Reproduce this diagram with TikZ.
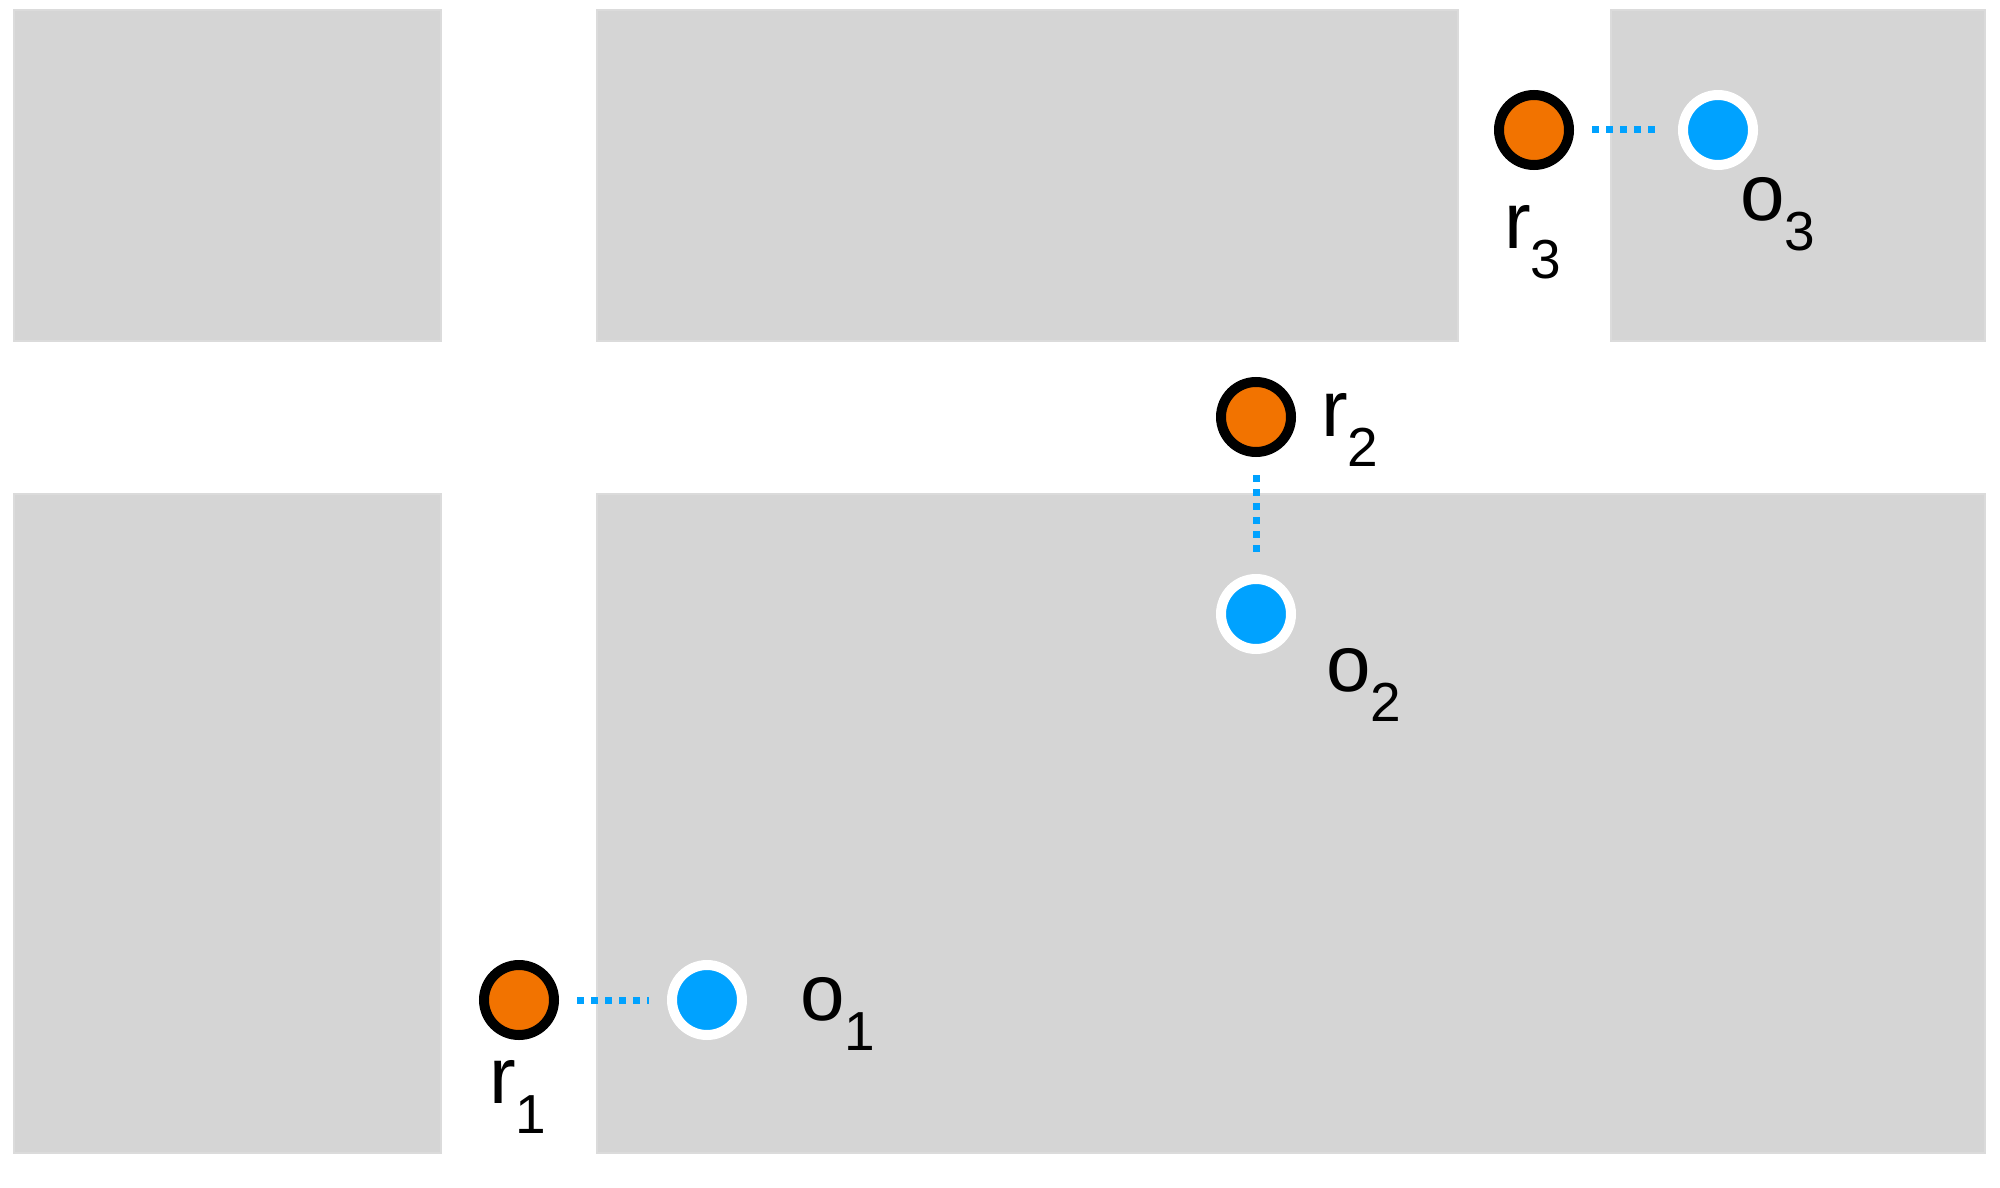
\documentclass[tikz,border=0pt]{standalone}
\usepackage{fontspec}
\setmainfont{Liberation Sans}
\definecolor{blk}{HTML}{D5D5D5}
\definecolor{rob}{HTML}{F27300}
\definecolor{obj}{HTML}{00A2FF}
\begin{document}
\begin{tikzpicture}[x=1pt,y=-1pt,
  block/.style={fill=blk,draw=blk!85!white,line width=1.5pt},
  robot/.style={circle,fill=rob,draw=black,line width=10pt,minimum size=70pt,inner sep=0pt},
  target/.style={circle,fill=obj,draw=white,line width=10pt,minimum size=70pt,inner sep=0pt},
  link/.style={draw=obj,line width=7pt,dash pattern=on 7pt off 7pt,shorten <=18pt,shorten >=18pt},
  lab/.style={font=\fontsize{80}{90}\selectfont,inner sep=0pt}]
\useasboundingbox (0,0) rectangle (2000,1188);
\fill[white] (0,0) rectangle (2000,1188);
\draw[block] (14,10) rectangle (441,341);
\draw[block] (597,10) rectangle (1458,341);
\draw[block] (1611,10) rectangle (1985,341);
\draw[block] (14,494) rectangle (441,1153);
\draw[block] (597,494) rectangle (1985,1153);
\node[robot] (r1) at (519,1000) {};
\node[target] (o1) at (707,1000) {};
\node[robot] (r2) at (1256,417) {};
\node[target] (o2) at (1256,614) {};
\node[robot] (r3) at (1534,130) {};
\node[target] (o3) at (1718,130) {};
\draw[link] (r1) -- (o1);
\draw[link] (r2) -- (o2);
\draw[link] (r3) -- (o3);
\node[lab] (lr1) at (518,1097) {r$_{\mbox{\fontsize{55}{60}\selectfont 1}}$};
\node[lab] (lo1) at (838,1014) {o$_{\mbox{\fontsize{55}{60}\selectfont 1}}$};
\node[lab] (lr2) at (1350,430) {r$_{\mbox{\fontsize{55}{60}\selectfont 2}}$};
\node[lab] (lo2) at (1364,685) {o$_{\mbox{\fontsize{55}{60}\selectfont 2}}$};
\node[lab] (lr3) at (1533,242) {r$_{\mbox{\fontsize{55}{60}\selectfont 3}}$};
\node[lab] (lo3) at (1778,214) {o$_{\mbox{\fontsize{55}{60}\selectfont 3}}$};
\end{tikzpicture}
\end{document}
